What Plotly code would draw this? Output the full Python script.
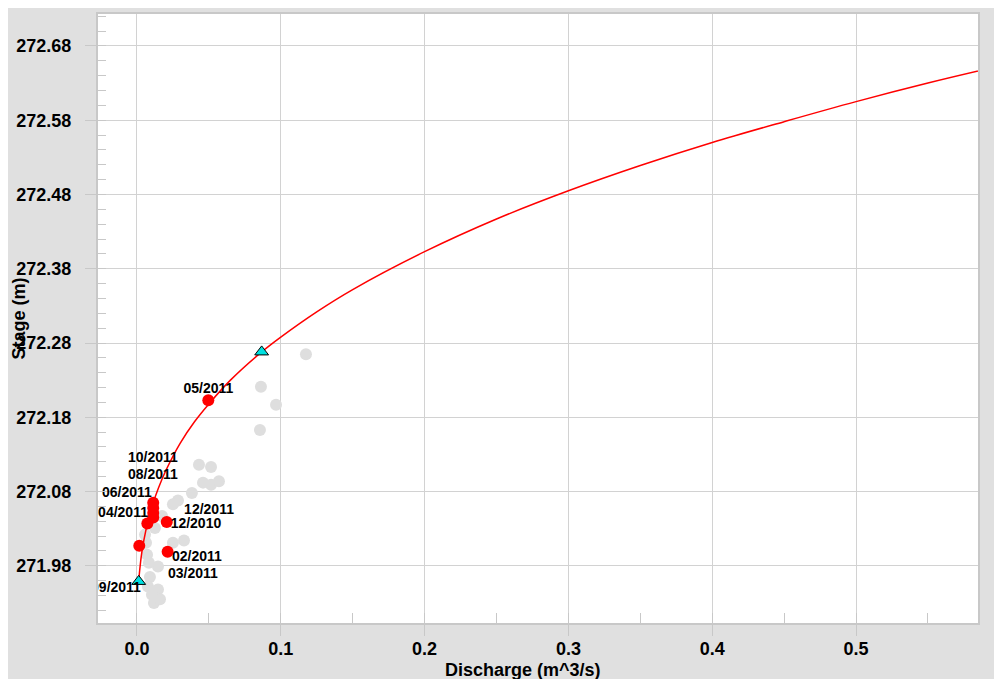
import plotly.graph_objects as go

# ---- data ----
# rating curve (discharge m^3/s, stage m)
curve_q = [0.0012, 0.0015, 0.002, 0.003, 0.004, 0.006, 0.008, 0.011, 0.015, 0.02,
           0.03, 0.04, 0.05, 0.065, 0.0867, 0.1, 0.125, 0.15, 0.2, 0.25,
           0.3, 0.35, 0.4, 0.45, 0.5, 0.55, 0.6]
curve_stage = [271.959, 271.966, 271.976, 271.993, 272.006, 272.026, 272.043, 272.063, 272.085, 272.108,
               272.145, 272.174, 272.198, 272.230, 272.268, 272.288, 272.322, 272.352, 272.403, 272.447,
               272.485, 272.519, 272.550, 272.578, 272.605, 272.630, 272.653]

# curve end points (triangles)
tri_q = [0.0012, 0.0867]
tri_stage = [271.959, 272.268]

# historical gaugings (grey)
hist_q = [0.1175, 0.0862, 0.0967, 0.0855, 0.0431, 0.0515, 0.0459, 0.0515, 0.0570, 0.0382,
          0.0285, 0.0250, 0.0174, 0.0125, 0.0250, 0.0327, 0.0063, 0.0070, 0.0146, 0.0083,
          0.0090, 0.0076, 0.0146, 0.0104, 0.0118, 0.0160, 0.0056]
hist_stage = [272.265, 272.221, 272.197, 272.163, 272.116, 272.113, 272.092, 272.089, 272.094, 272.078,
              272.068, 272.063, 272.047, 272.031, 272.011, 272.014, 272.011, 271.995, 271.979, 271.984,
              271.965, 271.952, 271.948, 271.941, 271.930, 271.935, 272.022]

# current gaugings (red)
meas_q = [0.0496, 0.0113, 0.0113, 0.0113, 0.0113, 0.0072, 0.0207, 0.0016, 0.0213]
meas_stage = [272.203, 272.065, 272.058, 272.051, 272.045, 272.037, 272.039, 272.007, 271.999]

# labels
label_text = ["05/2011", "10/2011", "08/2011", "06/2011", "12/2011",
              "04/2011", "12/2010", "02/2011", "03/2011", "09/2011"]
label_q = [0.0497, 0.0111, 0.0111, -0.0070, 0.0501, -0.0097, 0.0410, 0.0417, 0.0389, -0.0146]
label_stage = [272.217, 272.124, 272.101, 272.078, 272.055, 272.050, 272.035, 271.991, 271.968, 271.950]

x_title = "Discharge (m^3/s)"
y_title = "Stage (m)"

FONT = "Liberation Sans, Arial, sans-serif"
GRID = "#d2d2d2"
BORDER = "#c8c8c8"

fig = go.Figure()

fig.add_trace(go.Scatter(
    x=hist_q, y=hist_stage, mode="markers",
    marker=dict(size=12, color="#dedede", line=dict(width=0)),
    hoverinfo="skip"))

fig.add_trace(go.Scatter(
    x=curve_q, y=curve_stage, mode="lines",
    line=dict(color="#ff0000", width=1.5, shape="spline", smoothing=1),
    hoverinfo="skip"))

fig.add_trace(go.Scatter(
    x=meas_q, y=meas_stage, mode="markers",
    marker=dict(size=12, color="#ff0000", line=dict(width=0)),
    hoverinfo="skip"))

fig.add_trace(go.Scatter(
    x=tri_q, y=tri_stage, mode="markers",
    marker=dict(symbol="triangle-up", size=12, color="#00e0e0",
                line=dict(color="#000000", width=1)),
    hoverinfo="skip"))

fig.add_trace(go.Scatter(
    x=label_q, y=label_stage, mode="text", text=label_text,
    textposition="middle center",
    textfont=dict(family=FONT, size=14, color="#000000", weight="bold"),
    cliponaxis=True, hoverinfo="skip"))

axis_common = dict(
    ticks="outside", ticklen=11, tickwidth=1, tickcolor=BORDER,
    showgrid=True, gridcolor=GRID, gridwidth=1,
    showline=True, linecolor=BORDER, linewidth=2, mirror=True,
    zeroline=False,
    tickfont=dict(family=FONT, size=18, color="#000000", weight="bold"),
)

fig.update_xaxes(
    range=[-0.0271, 0.5848], tick0=0, dtick=0.1, tickformat=".1f",
    minor=dict(ticks="inside", tick0=0, dtick=0.05, ticklen=10, tickcolor=BORDER, showgrid=False),
    ticklabelstandoff=-3,
    **axis_common)

fig.update_yaxes(
    range=[271.903, 272.723], tick0=271.98, dtick=0.1, tickformat=".2f",
    minor=dict(ticks="inside", tick0=271.98, dtick=0.02, ticklen=8, tickcolor=BORDER, showgrid=False),
    ticklabelstandoff=10,
    **axis_common)

fig.update_layout(
    width=994, height=671,
    margin=dict(l=90, r=24, t=4, b=56),
    paper_bgcolor="#e0e0e0", plot_bgcolor="#ffffff",
    showlegend=False,
    font=dict(family=FONT, color="#000000"),
    annotations=[
        dict(text=y_title, xref="paper", yref="paper", x=-0.0898, y=0.5,
             xanchor="center", yanchor="middle", textangle=-90, showarrow=False,
             font=dict(family=FONT, size=18, color="#000000", weight="bold")),
        dict(text=x_title, xref="paper", yref="paper", x=0.483, y=-0.0775,
             xanchor="center", yanchor="middle", showarrow=False,
             font=dict(family=FONT, size=18, color="#000000", weight="bold")),
    ],
)

fig.write_html("out.html")
